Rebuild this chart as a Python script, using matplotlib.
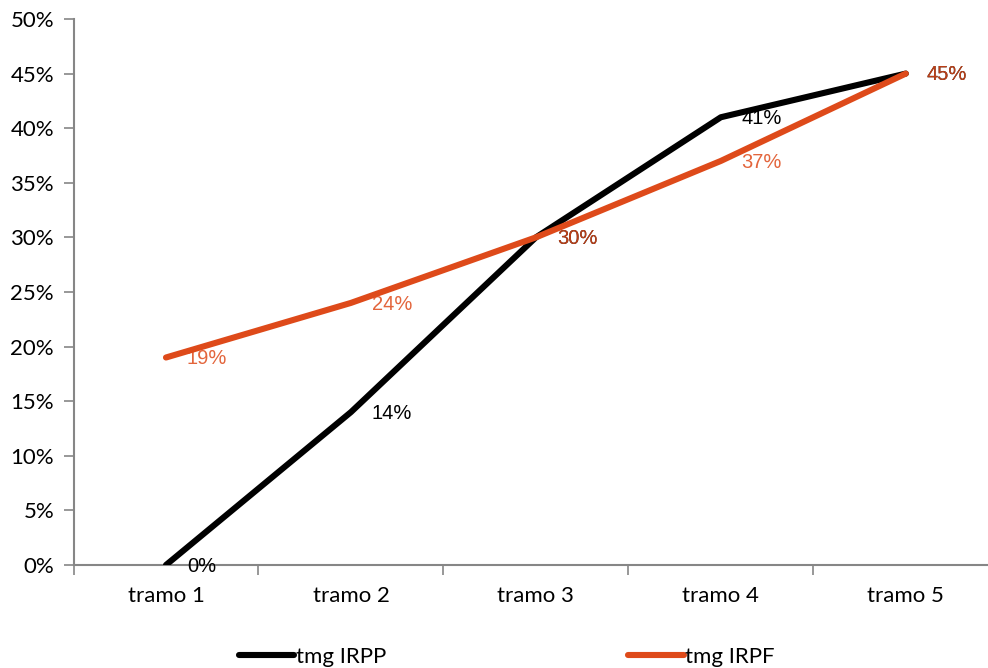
import matplotlib.pyplot as plt

categories = ['tramo 1', 'tramo 2', 'tramo 3', 'tramo 4', 'tramo 5']
irpp = [0, 14, 30, 41, 45]
irpf = [19, 24, 30, 37, 45]
y_ticks = list(range(0, 55, 5))

BLACK = '#000000'
ORANGE = '#DE4A1A'
AXIS_GREY = '#868686'

fig = plt.figure(figsize=(9.88, 6.68), dpi=100)
ax = fig.add_axes([0.0744, 0.1542, 0.936, 0.8174])

x = list(range(len(categories)))
ax.plot(x, irpp, color=BLACK, lw=4.4, solid_capstyle='round', label='tmg IRPP', zorder=3)
ax.plot(x, irpf, color=ORANGE, lw=4.4, solid_capstyle='round', label='tmg IRPF', zorder=4)

# value labels to the right of each point
for xi, v in zip(x, irpp):
    ax.annotate(f'{v}%', (xi, v), xytext=(15, -1), textcoords='offset points',
                ha='left', va='center', fontsize=14.5, color=BLACK,
                family='Liberation Sans', zorder=5)
for xi, v in zip(x, irpf):
    ax.annotate(f'{v}%', (xi, v), xytext=(15, -1), textcoords='offset points',
                ha='left', va='center', fontsize=14.5, color=ORANGE, alpha=0.85,
                family='Liberation Sans', zorder=6)

ax.set_xlim(-0.5, len(categories) - 0.5)
ax.set_ylim(0, 50)
ax.set_yticks(y_ticks)
ax.set_yticklabels([f'{t}%' for t in y_ticks])
ax.set_xticks([i - 0.5 for i in range(len(categories))])
ax.set_xticklabels([])
ax.set_xticks(x, minor=True)
ax.set_xticklabels(categories, minor=True)

for side in ['top', 'right']:
    ax.spines[side].set_visible(False)
for side in ['left', 'bottom']:
    ax.spines[side].set_color(AXIS_GREY)
    ax.spines[side].set_linewidth(1.5)

ax.tick_params(axis='y', which='major', direction='out', length=7, width=1.2,
               color=AXIS_GREY, labelsize=16, pad=7)
ax.tick_params(axis='x', which='major', direction='out', length=7, width=1.2,
               color=AXIS_GREY)
ax.tick_params(axis='x', which='minor', length=0, labelsize=16, pad=15)
for lab in ax.get_yticklabels() + ax.get_xticklabels(minor=True):
    lab.set_family('Lato')

leg = fig.legend(loc='lower center', bbox_to_anchor=(0.5127, -0.028), ncol=2,
                 frameon=False, fontsize=16, handlelength=2.5, handletextpad=0.05,
                 columnspacing=10.9)
for t in leg.get_texts():
    t.set_family('Lato')

fig.savefig('out.png', dpi=100)
